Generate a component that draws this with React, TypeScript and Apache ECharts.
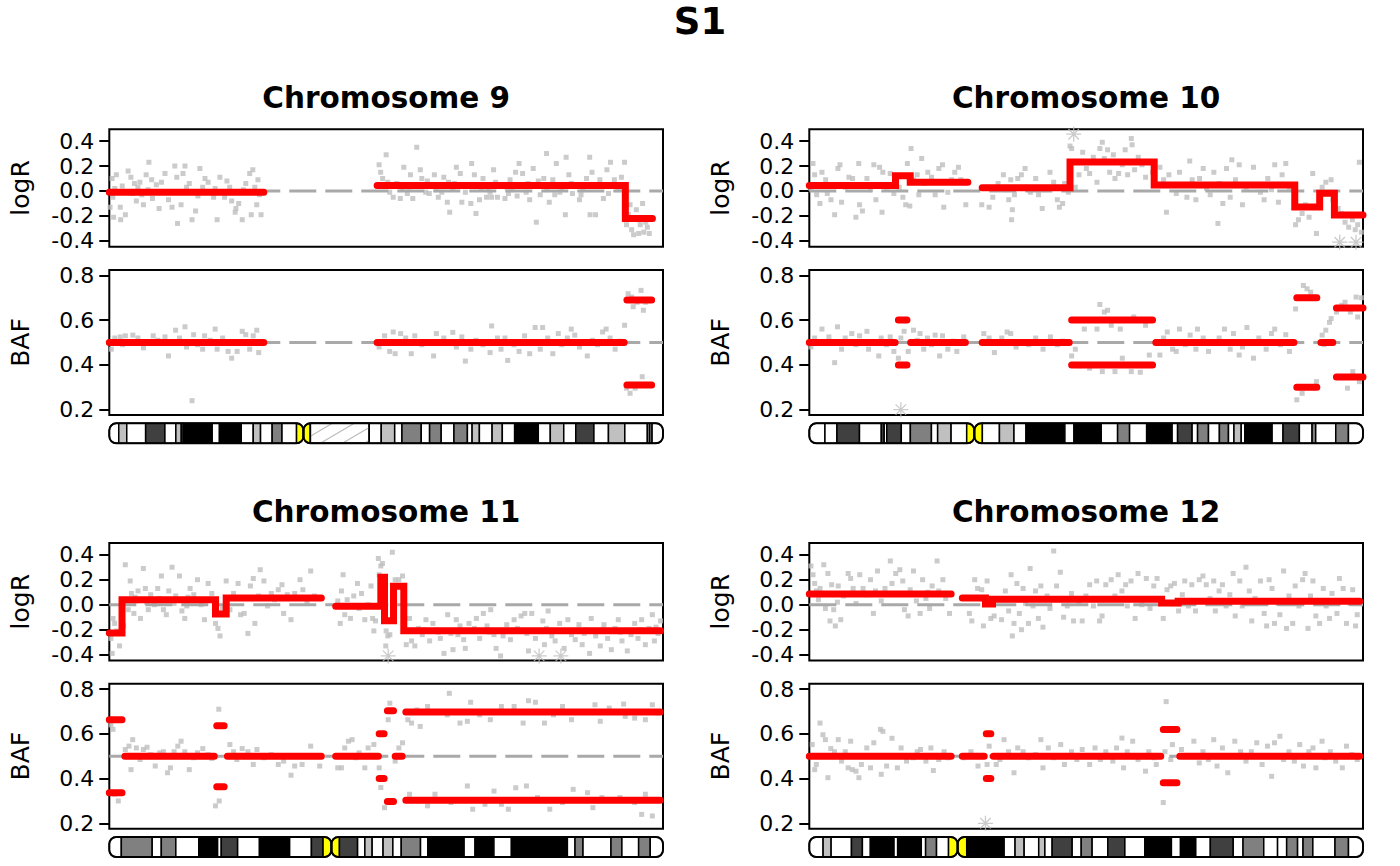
import React, { useEffect, useRef } from 'react';
import * as echarts from 'echarts';

// ---- sample / chromosome info ----
const sampleName = 'S1';
const chromTitles = ['Chromosome 9', 'Chromosome 10', 'Chromosome 11', 'Chromosome 12'];
const chromLengths = [141.2, 135.5, 135.0, 133.9]; // Mb
const centromeres = [49.51, 40.39, 54.16, 35.87]; // Mb

const logRTicks = [-0.4, -0.2, 0, 0.2, 0.4];
const bafTicks = [0.2, 0.4, 0.6, 0.8];
const logRRange = [-0.446, 0.494];
const bafRange = [0.176, 0.824];

// ---- segments: [start, end, value] ----
const chr9LogRSegs = [[0, 39.4, -0.01], [68.3, 131.6, 0.045], [131.6, 138.5, -0.22]];
const chr10LogRSegs = [[0, 21.1, 0.045], [21.1, 24.7, 0.123], [24.7, 38.8, 0.07], [42.3, 63.8, 0.027], [63.8, 84.4, 0.232], [84.4, 118.8, 0.048], [118.8, 124.9, -0.128], [124.9, 128.5, -0.019], [128.5, 135.5, -0.192]];
const chr11LogRSegs = [[0, 3.1, -0.227], [3.1, 25.9, 0.04], [25.9, 28.5, -0.075], [28.5, 51.7, 0.053], [55.2, 66.2, -0.013], [66.2, 67.1, 0.219], [67.1, 69.3, -0.128], [69.3, 71.8, 0.147], [71.8, 134.4, -0.208]];
const chr12LogRSegs = [[0, 34.3, 0.085], [37.0, 42.6, 0.053], [42.6, 44.3, 0.005], [44.3, 85.2, 0.043], [85.2, 89.2, 0.013], [89.2, 133.1, 0.027]];

const chr9BafSegs = [[0, 39.4, 0.5], [68.3, 131.3, 0.5], [132.0, 138.3, 0.69]];
const chr10BafSegs = [[0, 21.0, 0.5], [21.8, 23.9, 0.6], [24.8, 38.2, 0.5], [42.3, 63.6, 0.5], [64.2, 84.0, 0.6], [84.8, 118.6, 0.5], [119.3, 124.2, 0.7], [125.2, 128.1, 0.5], [129.0, 135.5, 0.654]];
const chr11BafSegs = [[0, 3.1, 0.663], [3.8, 25.6, 0.5], [26.2, 28.0, 0.636], [28.8, 51.7, 0.5], [55.2, 65.6, 0.5], [65.8, 67.0, 0.6], [67.8, 69.3, 0.703], [69.7, 71.4, 0.5], [72.3, 134.3, 0.697]];
const chr12BafSegs = [[0, 34.3, 0.5], [37.0, 42.3, 0.5], [42.8, 43.9, 0.6], [44.5, 85.0, 0.5], [85.6, 88.9, 0.619], [89.6, 133.1, 0.5]];

// ---- probe values: [position Mb, value] ----
const chr9LogRPoints = [
  [0.2, -0.13], [0.7, 0.1], [0.9, -0.05], [1.1, -0.21], [1.4, 0.02], [1.8, 0.13], [2.8, -0.13], [2.9, -0.23], [3.3, 0.04], [4.1, -0.19], [4.8, 0.16], [5.5, 0.11], [5.9, -0.02], [6.4, 0.06], [6.9, -0.08], [7.3, 0.03], [7.8, 0.07], [8.3, -0.03], [8.7, -0.11], [9.4, 0.13], [9.9, 0.01], [10.1, 0.23], [10.8, 0.09], [11.0, -0.06], [12.0, 0.05], [12.7, -0.14], [13.3, 0.07], [14.2, 0.14], [14.8, -0.01], [15.1, -0.07], [16.0, -0.13], [16.7, 0.2], [17.2, 0.11], [17.4, -0.26], [18.3, -0.11], [18.8, 0.14], [19.3, 0.2], [19.7, 0.03], [20.4, 0.06], [21.1, -0.23], [22.0, -0.16], [22.6, -0.04], [23.1, 0.18], [23.8, 0.03], [24.4, 0.1], [25.2, 0.07], [26.6, -0.05], [27.0, 0.02], [27.5, -0.23], [28.2, 0.11], [29.4, -0.05], [30.0, 0.08], [30.7, 0.03], [31.2, -0.08], [32.1, -0.17], [32.3, -0.14], [33.0, -0.1], [33.9, -0.23], [34.2, 0.01], [34.8, 0.06], [35.3, -0.01], [35.8, 0.14], [36.2, -0.19], [36.6, 0.17], [37.1, 0.03], [37.6, -0.11], [37.9, 0.09], [38.3, -0.03], [38.7, -0.19],
  [68.8, 0.21], [69.2, 0.15], [69.7, 0.1], [70.6, 0.29], [71.0, 0.07], [71.5, -0.01], [72.4, -0.05], [73.3, 0.06], [74.2, -0.06], [74.7, 0.02], [75.1, 0.19], [76.0, -0.02], [76.4, 0.03], [76.8, 0.13], [77.4, -0.06], [78.4, 0.35], [78.9, 0.04], [79.3, 0.17], [79.7, 0.1], [80.7, -0.01], [81.1, 0.08], [81.6, -0.02], [82.9, 0.13], [83.4, 0.01], [83.9, -0.05], [84.8, -0.01], [85.3, 0.11], [86.2, -0.09], [86.5, 0.07], [86.8, -0.17], [87.6, 0.02], [88.0, 0.06], [88.5, 0.19], [89.5, 0.14], [89.9, -0.09], [90.8, -0.01], [91.3, 0.04], [92.2, -0.1], [92.4, 0.22], [93.1, 0.13], [93.5, -0.18], [94.4, -0.07], [94.9, 0.02], [95.3, 0.1], [96.2, -0.05], [96.6, 0.01], [97.1, -0.01], [97.5, -0.05], [98.0, 0.17], [98.5, 0.07], [99.0, -0.05], [99.9, 0.05], [100.9, -0.06], [101.4, 0.03], [101.8, -0.02], [102.2, 0.09], [102.7, 0.01], [103.6, 0.15], [104.0, -0.04], [104.5, 0.22], [105.4, 0.14], [106.3, -0.01], [106.8, 0.06], [107.2, -0.07], [108.1, 0.18], [108.9, -0.25], [109.4, 0.08], [109.9, -0.03], [110.8, 0.1], [111.5, 0.3], [111.6, 0.01], [112.2, -0.09], [113.1, 0.09], [113.6, -0.03], [114.0, 0.22], [114.9, -0.01], [115.4, 0.02], [116.3, -0.19], [116.5, 0.27], [117.2, 0.13], [117.8, 0.06], [118.1, -0.02], [119.0, 0.05], [119.9, -0.07], [120.3, -0.03], [120.8, 0.01], [121.7, 0.1], [122.5, 0.27], [122.6, -0.19], [123.1, 0.15], [124.0, -0.19], [124.5, 0.04], [125.1, 0.09], [126.0, -0.06], [126.9, 0.17], [127.3, -0.02], [127.8, 0.23], [128.8, 0.09], [129.7, 0.01], [130.1, 0.03], [130.6, 0.11], [131.4, 0.23],
  [131.9, -0.27], [132.4, -0.19], [132.8, -0.11], [133.2, -0.31], [133.7, -0.35], [134.4, -0.15], [134.8, -0.23], [135.0, -0.34], [135.4, -0.27], [136.0, -0.1], [136.3, -0.33], [136.8, -0.25], [137.2, -0.29], [137.7, -0.34],
];
const chr9BafPoints = [
  [0.5, 0.47], [1.4, 0.52], [2.8, 0.525], [4.1, 0.53], [6.0, 0.533], [7.3, 0.52], [8.7, 0.476], [10.1, 0.496], [12.4, 0.51], [14.2, 0.525], [15.1, 0.44], [16.9, 0.555], [17.9, 0.52], [19.3, 0.57], [19.7, 0.48], [21.1, 0.24], [21.5, 0.535], [22.5, 0.49], [23.8, 0.47], [24.3, 0.53], [25.7, 0.51], [27.0, 0.56], [27.5, 0.47], [28.9, 0.52], [30.3, 0.46], [31.2, 0.43], [32.6, 0.46], [33.9, 0.55], [34.8, 0.535], [35.8, 0.47], [36.7, 0.53], [37.6, 0.555], [38.1, 0.455], [3.4, 0.49], [11.2, 0.53],
  [68.8, 0.48], [70.2, 0.53], [71.5, 0.46], [72.4, 0.547], [72.9, 0.45], [74.3, 0.54], [75.6, 0.52], [77.0, 0.45], [77.9, 0.53], [79.7, 0.49], [82.7, 0.44], [83.4, 0.54], [85.3, 0.52], [87.6, 0.545], [88.5, 0.48], [89.9, 0.525], [90.8, 0.417], [92.2, 0.47], [93.5, 0.51], [95.3, 0.49], [97.1, 0.455], [97.5, 0.574], [99.0, 0.52], [99.9, 0.47], [100.9, 0.52], [101.6, 0.42], [103.2, 0.49], [104.5, 0.46], [105.9, 0.53], [107.2, 0.45], [108.6, 0.567], [109.9, 0.47], [110.5, 0.567], [111.8, 0.52], [113.1, 0.45], [114.5, 0.54], [115.4, 0.49], [116.8, 0.52], [117.8, 0.56], [118.7, 0.533], [119.9, 0.48], [121.9, 0.44], [123.2, 0.51], [124.5, 0.49], [125.8, 0.547], [126.7, 0.56], [127.7, 0.52], [129.0, 0.47], [130.2, 0.506], [131.4, 0.577],
  [132.3, 0.718], [133.2, 0.703], [133.6, 0.66], [134.6, 0.68], [135.6, 0.733], [136.2, 0.644], [136.8, 0.68], [131.9, 0.296], [132.8, 0.273], [134.1, 0.296], [135.9, 0.347],
];
const chr9LogROutliers: number[][] = [];
const chr9BafOutliers: number[][] = [];

const chr10LogRPoints = [
  [0.4, 0.02], [0.9, 0.22], [1.3, 0.13], [1.8, -0.03], [2.6, -0.1], [3.1, 0.15], [4.0, 0.09], [4.4, -0.02], [5.3, -0.07], [6.2, -0.19], [7.0, 0.18], [7.5, 0.21], [7.9, -0.09], [8.8, 0.03], [9.7, 0.11], [10.6, 0.1], [11.4, -0.21], [12.1, 0.22], [12.3, -0.11], [13.0, -0.16], [14.1, 0.1], [15.0, 0.01], [15.8, 0.21], [16.3, -0.07], [17.2, 0.19], [17.8, -0.17], [18.0, 0.15], [18.9, 0.03], [19.8, 0.14], [20.7, -0.02],
  [22.0, 0.03], [22.9, -0.05], [23.6, -0.11], [24.0, 0.22], [24.9, 0.34], [24.6, -0.12],
  [25.5, 0.09], [26.4, 0.13], [26.8, -0.03], [27.5, 0.26], [28.2, 0.06], [29.0, 0.15], [29.9, 0.11], [30.8, -0.03], [31.7, 0.18], [32.6, 0.21], [32.9, -0.13], [33.9, -0.01], [34.8, 0.09], [35.6, 0.15], [36.5, 0.19], [37.1, 0.09], [38.3, -0.11],
  [42.2, -0.11], [43.1, 0.02], [44.0, -0.13], [44.9, -0.05], [46.2, 0.06], [47.5, 0.13], [48.2, 0.01], [48.8, -0.07], [49.3, 0.09], [49.7, -0.15], [49.5, -0.23], [50.2, -0.03], [51.0, 0.1], [51.9, 0.13], [52.8, 0.18], [53.2, 0.03], [54.1, -0.01], [55.4, 0.1], [56.1, -0.03], [57.0, -0.14], [57.6, 0.01], [58.9, 0.15], [59.8, 0.07], [60.7, -0.07], [61.2, -0.13], [62.0, -0.1], [62.5, 0.06], [63.4, -0.01],
  [63.8, 0.36], [64.2, 0.34], [65.1, 0.03], [66.0, 0.13], [66.9, 0.31], [67.8, 0.18], [68.6, 0.14], [69.5, 0.27], [70.4, 0.07], [71.1, 0.34], [71.7, 0.39], [72.2, 0.26], [73.0, 0.33], [73.5, 0.15], [74.4, 0.29], [74.8, 0.1], [75.7, 0.14], [76.6, 0.21], [77.3, 0.33], [77.9, 0.13], [78.8, 0.42], [79.0, 0.37], [79.6, 0.17], [80.5, 0.27], [81.4, 0.21], [82.3, 0.11], [83.2, 0.23], [84.0, 0.15],
  [85.8, 0.19], [86.7, 0.09], [87.4, -0.17], [88.0, 0.13], [88.9, 0.05], [89.8, -0.02], [90.6, 0.15], [91.5, 0.05], [92.4, -0.05], [93.1, 0.24], [93.7, 0.09], [94.6, -0.07], [95.5, 0.1], [96.4, 0.18], [97.2, 0.02], [98.1, -0.03], [99.0, 0.15], [100.0, -0.26], [100.3, 0.06], [101.2, -0.1], [102.1, 0.18], [103.0, -0.05], [103.4, 0.25], [104.3, 0.09], [105.2, 0.21], [106.0, -0.11], [106.9, 0.03], [108.7, 0.19], [109.6, 0.05], [110.4, -0.01], [111.3, -0.07], [112.2, 0.1], [113.1, 0.01], [113.9, 0.21], [114.8, -0.09], [115.7, 0.13], [116.6, 0.22], [117.5, 0.03],
  [119.0, -0.27], [119.7, -0.23], [120.6, -0.18], [121.4, -0.11], [122.3, -0.21], [123.2, 0.14], [124.1, -0.34],
  [125.5, 0.03], [126.4, 0.07], [127.7, 0.09], [128.1, -0.07],
  [129.4, -0.14], [130.3, -0.18], [131.1, -0.25], [132.0, -0.29], [132.9, -0.23], [133.6, -0.31], [134.2, -0.27], [134.6, 0.23], [135.1, -0.33],
];
const chr10BafPoints = [
  [0.4, 0.48], [1.3, 0.52], [3.1, 0.56], [4.0, 0.5], [4.8, 0.525], [6.2, 0.41], [6.9, 0.57], [7.9, 0.47], [8.8, 0.52], [10.4, 0.54], [11.4, 0.49], [12.3, 0.53], [14.1, 0.55], [14.5, 0.47], [16.3, 0.5], [17.0, 0.44], [17.6, 0.52], [18.9, 0.49], [19.8, 0.525], [20.7, 0.46],
  [21.8, 0.43], [22.4, 0.52], [23.2, 0.55], [24.2, 0.46],
  [25.5, 0.555], [26.4, 0.51], [27.1, 0.54], [28.0, 0.47], [28.9, 0.52], [29.9, 0.49], [30.8, 0.533], [31.9, 0.44], [32.6, 0.53], [33.9, 0.47], [35.2, 0.506], [36.1, 0.46], [37.8, 0.525],
  [42.7, 0.54], [44.0, 0.52], [45.3, 0.455], [47.1, 0.52], [48.4, 0.547], [49.3, 0.54], [50.6, 0.48], [51.9, 0.5], [53.7, 0.49], [55.4, 0.52], [57.2, 0.47], [59.0, 0.525], [60.7, 0.49], [62.0, 0.506],
  [64.2, 0.44], [65.1, 0.47], [66.0, 0.396], [67.3, 0.56], [68.6, 0.385], [70.4, 0.56], [71.1, 0.67], [71.7, 0.37], [72.2, 0.636], [73.0, 0.644], [73.9, 0.577], [74.8, 0.37], [76.1, 0.56], [76.6, 0.43], [78.8, 0.37], [79.4, 0.614], [81.0, 0.367], [82.3, 0.577], [83.2, 0.444],
  [85.8, 0.444], [86.7, 0.52], [87.6, 0.547], [88.9, 0.47], [89.8, 0.46], [90.6, 0.56], [92.0, 0.49], [93.2, 0.533], [94.6, 0.47], [95.0, 0.56], [96.4, 0.52], [97.7, 0.46], [99.0, 0.496], [100.3, 0.52], [101.6, 0.56], [103.0, 0.47], [103.8, 0.54], [105.2, 0.444], [106.0, 0.48], [107.1, 0.567], [108.7, 0.43], [110.0, 0.52], [111.8, 0.47], [113.1, 0.54], [113.9, 0.56], [115.3, 0.49], [116.6, 0.535], [117.5, 0.46],
  [119.0, 0.65], [120.9, 0.755], [121.8, 0.74], [122.7, 0.725], [119.3, 0.244], [120.6, 0.273], [124.1, 0.325],
  [125.5, 0.533], [126.0, 0.49], [126.4, 0.555], [127.3, 0.59], [127.7, 0.607],
  [129.0, 0.636], [130.3, 0.666], [131.1, 0.68], [132.4, 0.636], [133.8, 0.703], [134.2, 0.614], [135.1, 0.7], [129.9, 0.347], [131.7, 0.296], [133.0, 0.37], [134.6, 0.325],
];
const chr10LogROutliers = [[64.7, 0.455], [129.8, -0.41], [133.8, -0.41]];
const chr10BafOutliers = [[22.4, 0.2]];

const chr11LogRPoints = [
  [0.4, -0.27], [0.7, -0.39], [0.9, -0.11], [1.3, -0.15], [1.8, -0.21], [2.5, -0.33],
  [3.5, -0.17], [3.9, 0.32], [4.6, -0.04], [5.1, 0.19], [5.4, 0.09], [6.0, -0.07], [6.6, 0.03], [7.0, 0.11], [7.6, -0.11], [8.3, 0.29], [8.8, 0.13], [9.5, -0.04], [10.1, 0.08], [11.0, 0.0], [11.8, 0.13], [12.7, 0.23], [13.2, -0.04], [13.9, -0.08], [14.5, 0.11], [15.3, 0.3], [16.2, 0.07], [17.1, 0.23], [17.7, -0.05], [18.4, -0.11], [18.9, -0.01], [19.7, 0.13], [20.6, 0.08], [21.5, 0.2], [22.4, 0.0], [23.2, -0.12], [24.1, 0.17], [25.0, 0.09], [6.3, 0.06], [9.1, 0.02], [12.2, 0.05], [15.8, 0.01], [19.2, 0.06], [23.7, 0.04],
  [25.9, -0.15], [26.5, -0.19], [27.0, -0.25], [27.6, -0.03],
  [28.5, 0.19], [29.4, -0.04], [30.3, 0.09], [31.4, 0.17], [32.0, -0.08], [32.9, -0.07], [33.8, -0.23], [34.4, 0.15], [35.1, 0.21], [35.5, -0.15], [36.4, 0.07], [36.8, 0.28], [37.7, 0.19], [38.6, -0.01], [39.5, 0.09], [40.3, 0.04], [41.2, 0.12], [42.1, 0.16], [42.5, -0.07], [43.4, 0.08], [44.3, -0.12], [45.2, 0.09], [46.5, 0.2], [47.2, 0.12], [48.2, 0.01], [49.1, 0.27], [50.0, 0.07],
  [55.7, 0.03], [56.3, -0.15], [56.6, 0.11], [57.0, 0.24], [57.4, -0.08], [58.0, 0.04], [58.8, -0.11], [59.6, 0.07], [60.5, 0.17], [60.9, -0.03], [61.5, 0.09], [62.3, -0.12], [63.1, 0.0], [63.8, 0.15], [64.2, -0.11], [64.5, -0.21], [64.9, -0.13],
  [65.6, 0.37], [65.8, 0.24], [66.2, 0.31], [66.6, 0.33],
  [67.4, -0.33], [67.5, -0.21], [67.9, -0.25], [68.4, -0.24],
  [69.0, 0.42], [69.3, 0.07], [69.7, 0.2], [70.6, 0.2], [71.5, 0.23],
  [72.4, -0.32], [73.2, -0.11], [73.7, -0.29], [74.5, -0.33], [75.4, -0.19], [76.3, -0.24], [77.2, -0.12], [78.1, -0.29], [78.9, -0.15], [79.8, -0.2], [80.7, -0.27], [81.6, -0.39], [82.5, -0.08], [83.3, -0.23], [83.8, -0.36], [84.6, -0.12], [85.5, -0.17], [86.4, -0.28], [86.8, -0.35], [87.7, -0.15], [88.6, -0.21], [89.5, -0.11], [90.3, -0.27], [91.2, -0.07], [92.1, -0.17], [93.0, -0.04], [93.8, -0.24], [94.3, -0.35], [95.4, -0.41], [96.0, -0.25], [96.9, -0.16], [97.8, -0.28], [98.7, -0.12], [99.5, -0.19], [100.4, -0.09], [101.3, -0.07], [102.2, -0.37], [103.0, -0.07], [103.9, -0.27], [105.7, -0.13], [106.1, -0.32], [107.0, -0.05], [107.9, -0.25], [108.7, -0.29], [109.8, -0.15], [110.9, -0.35], [111.8, -0.12], [112.7, -0.24], [113.6, -0.28], [114.5, -0.16], [115.3, -0.32], [116.2, -0.2], [117.1, -0.39], [117.5, -0.11], [118.6, -0.25], [119.7, -0.33], [120.6, -0.16], [121.5, -0.27], [122.4, -0.36], [123.3, -0.19], [124.1, -0.12], [125.0, -0.29], [126.3, -0.37], [127.2, -0.24], [128.1, -0.15], [128.9, -0.27], [129.8, -0.12], [130.7, -0.32], [131.6, -0.19], [132.4, -0.08], [132.9, -0.29], [133.8, -0.23], [134.4, -0.13],
  [76.8, -0.2], [80.2, -0.22], [85.0, -0.24], [89.0, -0.19], [92.6, -0.22], [97.3, -0.21], [101.8, -0.23], [106.6, -0.19], [111.3, -0.21], [115.8, -0.23], [120.1, -0.2], [124.6, -0.22], [129.3, -0.2], [133.3, -0.18],
];
const chr11BafPoints = [
  [0.4, 0.64], [0.9, 0.62], [1.3, 0.33], [2.2, 0.3],
  [3.9, 0.53], [4.8, 0.545], [5.3, 0.44], [5.7, 0.574], [6.6, 0.537], [7.5, 0.485], [8.3, 0.53], [9.2, 0.54], [10.1, 0.507], [11.2, 0.456], [12.3, 0.515], [13.2, 0.52], [14.2, 0.426], [14.9, 0.448], [15.8, 0.52], [16.7, 0.545], [17.5, 0.567], [18.4, 0.52], [19.5, 0.44], [20.6, 0.493], [21.5, 0.515], [22.8, 0.534], [24.1, 0.507], [25.0, 0.49],
  [26.7, 0.71], [25.9, 0.278], [26.8, 0.3],
  [29.4, 0.552], [30.3, 0.52], [31.1, 0.485], [32.4, 0.534], [33.8, 0.52], [35.1, 0.463], [36.0, 0.53], [37.7, 0.493], [39.5, 0.507], [41.2, 0.463], [42.5, 0.478], [44.3, 0.415], [45.2, 0.456], [47.0, 0.463], [49.1, 0.545], [51.3, 0.456],
  [55.7, 0.448], [56.6, 0.448], [57.4, 0.537], [58.3, 0.567], [59.2, 0.574], [60.1, 0.493], [60.9, 0.515], [62.3, 0.448], [63.1, 0.537], [64.5, 0.552], [65.8, 0.448],
  [66.2, 0.36], [67.1, 0.27], [68.4, 0.737], [68.0, 0.663], [69.7, 0.478], [70.6, 0.537], [71.5, 0.56],
  [72.8, 0.663], [73.7, 0.648], [75.0, 0.707], [75.8, 0.633], [77.6, 0.722], [78.5, 0.7], [82.9, 0.781], [82.4, 0.685], [85.5, 0.648], [87.3, 0.656], [88.1, 0.741], [90.3, 0.685], [92.9, 0.663], [95.6, 0.722], [98.7, 0.722], [100.9, 0.648], [102.2, 0.748], [103.9, 0.741], [106.1, 0.648], [108.3, 0.685], [110.5, 0.722], [112.7, 0.663], [114.9, 0.7], [118.4, 0.73], [119.7, 0.656], [121.9, 0.715], [125.4, 0.733], [125.8, 0.678], [128.1, 0.67], [130.7, 0.663], [132.4, 0.73], [133.7, 0.693],
  [73.2, 0.33], [75.4, 0.3], [77.6, 0.278], [79.4, 0.33], [83.3, 0.293], [87.3, 0.367], [88.6, 0.263], [91.6, 0.285], [93.8, 0.344], [95.6, 0.285], [97.3, 0.263], [99.1, 0.359], [101.7, 0.367], [104.4, 0.315], [107.4, 0.263], [110.5, 0.293], [113.1, 0.352], [116.6, 0.337], [117.9, 0.27], [120.1, 0.315], [124.5, 0.315], [128.1, 0.293], [129.8, 0.24], [130.7, 0.33], [132.4, 0.233],
];
const chr11LogROutliers = [[68.0, -0.41], [104.8, -0.41], [110.1, -0.41]];
const chr11BafOutliers: number[][] = [];

const chr12LogRPoints = [
  [0.4, 0.31], [0.9, 0.24], [1.3, 0.17], [1.7, 0.11], [2.2, 0.04], [2.6, 0.13], [3.5, 0.32], [3.9, -0.03], [4.5, 0.25], [5.0, -0.13], [5.4, 0.16], [5.9, -0.04], [6.3, -0.17], [7.0, 0.15], [7.6, -0.12], [8.3, 0.07], [9.4, 0.25], [10.0, 0.21], [10.6, 0.13], [11.3, 0.01], [12.2, 0.24], [13.0, 0.13], [13.9, 0.08], [14.8, 0.2], [15.5, -0.07], [16.5, 0.27], [17.4, 0.03], [18.3, 0.13], [19.6, 0.35], [20.0, 0.17], [20.9, 0.25], [21.9, 0.28], [22.6, 0.19], [23.0, -0.04], [23.9, -0.09], [25.2, 0.27], [25.9, 0.03], [26.8, -0.07], [27.4, 0.2], [28.2, 0.05], [29.1, -0.03], [29.7, 0.15], [30.9, 0.35], [31.3, 0.11], [32.3, 0.2], [33.0, 0.05], [33.9, -0.07], [6.8, 0.02], [11.8, 0.09], [16.0, 0.11], [24.4, 0.12], [28.7, 0.1],
  [38.7, -0.07], [39.3, -0.13], [40.0, 0.2], [40.7, 0.13], [41.7, 0.12], [42.1, -0.17], [43.0, 0.19], [43.9, -0.11], [44.7, -0.09],
  [46.5, -0.12], [46.9, 0.04], [47.4, 0.11], [48.2, -0.05], [48.8, 0.24], [49.1, -0.25], [49.5, -0.15], [50.2, 0.17], [50.8, -0.07], [51.3, -0.2], [51.7, 0.13], [52.3, 0.01], [53.0, -0.15], [53.4, 0.29], [54.1, -0.01], [54.7, 0.11], [55.4, -0.11], [56.0, 0.15], [56.5, -0.18], [57.5, 0.07], [58.2, -0.03], [59.1, 0.43], [59.8, 0.15], [60.7, 0.26], [61.0, 0.05], [61.5, -0.1], [62.4, -0.01], [63.4, 0.09], [63.9, -0.13], [65.2, 0.01], [66.0, -0.13], [66.9, 0.07], [67.8, 0.16], [68.7, -0.01], [69.5, 0.19], [70.2, -0.13], [70.8, -0.09], [71.7, 0.16], [73.0, 0.2], [73.9, 0.07], [74.7, 0.24], [75.6, 0.11], [76.5, 0.16], [76.9, -0.01], [77.8, 0.19], [78.8, -0.11], [79.5, 0.25], [80.4, 0.0], [81.5, 0.21], [82.4, -0.03], [83.3, 0.15], [84.1, 0.21],
  [85.6, -0.11], [86.5, 0.12], [87.4, 0.15], [88.3, 0.17], [89.3, -0.05],
  [90.2, 0.08], [90.8, 0.19], [91.7, -0.01], [92.5, 0.16], [93.4, -0.05], [94.3, 0.2], [95.2, 0.23], [96.0, 0.16], [96.9, 0.05], [97.8, 0.19], [98.2, -0.05], [99.1, 0.11], [99.9, 0.16], [100.8, -0.01], [101.7, 0.08], [102.5, 0.25], [103.0, -0.09], [104.1, 0.19], [104.7, -0.01], [105.6, 0.3], [106.4, 0.11], [107.0, -0.13], [107.8, 0.05], [109.1, 0.19], [110.0, -0.07], [110.6, -0.17], [111.2, 0.2], [111.9, 0.13], [112.5, -0.15], [113.4, 0.01], [113.8, -0.08], [114.7, 0.27], [115.4, -0.19], [116.0, 0.07], [116.9, -0.15], [117.5, 0.15], [118.4, -0.01], [119.3, 0.2], [119.9, 0.25], [120.6, -0.19], [121.2, 0.07], [121.8, 0.19], [122.5, -0.09], [123.4, -0.15], [124.3, 0.13], [125.0, -0.01], [125.8, -0.11], [126.4, 0.09], [127.6, -0.07], [128.2, 0.21], [129.1, 0.13], [129.9, -0.15], [130.8, 0.01], [131.4, 0.12], [132.1, -0.17], [132.5, -0.08],
];
const chr12BafPoints = [
  [0.7, 0.552], [1.3, 0.44], [1.7, 0.463], [2.6, 0.648], [3.3, 0.596], [3.9, 0.574], [4.5, 0.404], [5.2, 0.534], [6.1, 0.52], [7.0, 0.574], [7.8, 0.478], [8.7, 0.52], [9.4, 0.448], [10.0, 0.567], [10.4, 0.44], [11.3, 0.433], [12.0, 0.404], [12.6, 0.463], [13.9, 0.537], [14.8, 0.448], [15.6, 0.56], [17.2, 0.62], [17.8, 0.611], [17.4, 0.419], [18.7, 0.456], [20.0, 0.58], [21.3, 0.448], [22.2, 0.537], [23.5, 0.478], [25.2, 0.493], [26.1, 0.52], [26.9, 0.53], [28.2, 0.478], [29.4, 0.537], [30.0, 0.436], [31.3, 0.485], [32.6, 0.52], [33.5, 0.493],
  [37.4, 0.493], [39.1, 0.52], [40.8, 0.456], [41.7, 0.5], [43.5, 0.545], [43.0, 0.463],
  [45.2, 0.463], [46.1, 0.485], [47.1, 0.574], [48.2, 0.52], [49.5, 0.426], [50.4, 0.537], [51.7, 0.52], [53.0, 0.493], [54.7, 0.507], [56.0, 0.574], [56.5, 0.448], [57.8, 0.537], [59.1, 0.493], [60.8, 0.552], [61.7, 0.463], [63.4, 0.52], [64.7, 0.485], [66.0, 0.53], [67.8, 0.463], [69.1, 0.537], [70.4, 0.485], [71.7, 0.52], [73.4, 0.478], [74.3, 0.537], [75.6, 0.581], [76.0, 0.448], [76.9, 0.52], [78.2, 0.567], [79.5, 0.485], [81.3, 0.433], [82.1, 0.52], [83.4, 0.493], [83.9, 0.463],
  [86.3, 0.744], [86.0, 0.52], [85.6, 0.293], [87.8, 0.552], [87.4, 0.485],
  [90.0, 0.53], [91.3, 0.5], [93.0, 0.567], [94.3, 0.47], [95.2, 0.52], [96.5, 0.485], [97.8, 0.574], [98.6, 0.456], [99.9, 0.537], [101.2, 0.426], [102.9, 0.567], [104.3, 0.52], [105.6, 0.478], [106.9, 0.52], [108.2, 0.56], [109.5, 0.463], [110.8, 0.545], [111.8, 0.41], [112.5, 0.56], [113.8, 0.589], [114.7, 0.485], [116.0, 0.52], [117.3, 0.478], [118.6, 0.552], [119.5, 0.456], [120.8, 0.52], [121.8, 0.537], [122.5, 0.448], [124.0, 0.567], [124.7, 0.493], [126.0, 0.52], [127.3, 0.478], [128.9, 0.448], [129.9, 0.545], [131.2, 0.507], [132.5, 0.485],
];
const chr12LogROutliers: number[][] = [];
const chr12BafOutliers = [[42.6, 0.2]];

// ---- cytobands: [start, end, stain] ----
const chr9Bands = [
  [0, 2.41, 'gneg'], [2.41, 4.45, 'gpos25'], [4.45, 9.27, 'gneg'], [9.27, 14.18, 'gpos75'], [14.18, 16.97, 'gneg'], [16.97, 18.36, 'gpos25'], [18.36, 18.82, 'gneg'], [18.82, 26.24, 'gpos100'], [26.24, 28.09, 'gneg'], [28.09, 33.65, 'gpos100'], [33.65, 36.71, 'gneg'], [36.71, 38.57, 'gpos25'], [38.57, 41.53, 'gneg'], [41.53, 44.04, 'gpos50'], [44.04, 47.75, 'gneg'], [47.75, 49.51, 'acen'],
  [49.51, 51.27, 'acen'], [51.27, 66.29, 'gvar'], [66.29, 69.35, 'gneg'], [69.35, 72.78, 'gpos25'], [72.78, 74.63, 'gneg'], [74.63, 79.55, 'gpos50'], [79.55, 81.68, 'gneg'], [81.68, 84.64, 'gpos50'], [84.64, 87.89, 'gneg'], [87.89, 91.32, 'gpos50'], [91.32, 92.52, 'gneg'], [92.52, 94.38, 'gpos25'], [94.38, 97.62, 'gneg'], [97.62, 100.22, 'gpos25'], [100.22, 103.37, 'gneg'], [103.37, 109.4, 'gpos100'], [109.4, 112.46, 'gneg'], [112.46, 115.89, 'gpos25'], [115.89, 118.95, 'gneg'], [118.95, 123.58, 'gpos75'], [123.58, 127.29, 'gneg'], [127.29, 131.46, 'gpos25'], [131.46, 137.21, 'gneg'], [137.21, 137.77, 'gpos25'], [137.77, 138.42, 'gpos50'], [138.42, 141.2, 'gneg'],
];
const chr10Bands = [
  [0, 3.83, 'gneg'], [3.83, 6.76, 'gneg'], [6.76, 12.28, 'gpos75'], [12.28, 17.62, 'gneg'], [17.62, 18.33, 'gpos75'], [18.33, 18.95, 'gneg'], [18.95, 22.51, 'gpos75'], [22.51, 24.73, 'gneg'], [24.73, 29.89, 'gpos50'], [29.89, 31.41, 'gneg'], [31.41, 34.7, 'gpos25'], [34.7, 38.52, 'gneg'], [38.52, 40.39, 'acen'],
  [40.39, 42.35, 'acen'], [42.35, 46.53, 'gneg'], [46.53, 50.09, 'gpos25'], [50.09, 53.03, 'gneg'], [53.03, 62.55, 'gpos100'], [62.55, 64.77, 'gneg'], [64.77, 71.44, 'gpos100'], [71.44, 75.45, 'gneg'], [75.45, 78.38, 'gpos50'], [78.38, 82.56, 'gneg'], [82.56, 88.79, 'gpos100'], [88.79, 90.13, 'gneg'], [90.13, 93.68, 'gpos75'], [93.68, 95.02, 'gneg'], [95.02, 97.69, 'gpos50'], [97.69, 100.36, 'gneg'], [100.36, 102.58, 'gpos50'], [102.58, 103.92, 'gneg'], [103.92, 105.7, 'gpos25'], [105.7, 106.59, 'gneg'], [106.59, 113.26, 'gpos100'], [113.26, 115.93, 'gneg'], [115.93, 119.93, 'gpos75'], [119.93, 123.04, 'gneg'], [123.04, 123.93, 'gpos50'], [123.93, 128.83, 'gneg'], [128.83, 131.94, 'gpos50'], [131.94, 135.5, 'gneg'],
];
const chr11Bands = [
  [0, 2.93, 'gneg'], [2.93, 10.46, 'gpos50'], [10.46, 12.68, 'gneg'], [12.68, 16.22, 'gpos50'], [16.22, 21.81, 'gneg'], [21.81, 26.41, 'gpos100'], [26.41, 27.3, 'gneg'], [27.3, 31.29, 'gpos75'], [31.29, 36.61, 'gneg'], [36.61, 43.97, 'gpos100'], [43.97, 49.28, 'gneg'], [49.28, 52.12, 'gpos75'], [52.12, 54.16, 'acen'],
  [54.16, 56.11, 'acen'], [56.11, 60.54, 'gpos75'], [60.54, 62.31, 'gneg'], [62.31, 64.09, 'gpos25'], [64.09, 66.75, 'gneg'], [66.75, 69.14, 'gpos25'], [69.14, 71.18, 'gneg'], [71.18, 75.88, 'gpos50'], [75.88, 77.65, 'gneg'], [77.65, 86.51, 'gpos100'], [86.51, 89.17, 'gneg'], [89.17, 93.78, 'gpos100'], [93.78, 98.04, 'gneg'], [98.04, 103.35, 'gpos100'], [103.35, 103.53, 'gneg'], [103.53, 111.69, 'gpos100'], [111.69, 113.55, 'gneg'], [113.55, 115.5, 'gpos50'], [115.5, 122.32, 'gneg'], [122.32, 124.98, 'gpos50'], [124.98, 129.06, 'gneg'], [129.06, 131.89, 'gpos50'], [131.89, 135.0, 'gneg'],
];
const chr12Bands = [
  [0, 3.34, 'gneg'], [3.34, 5.28, 'gpos25'], [5.28, 10.2, 'gneg'], [10.2, 12.84, 'gpos75'], [12.84, 14.77, 'gneg'], [14.77, 20.49, 'gpos100'], [20.49, 21.37, 'gneg'], [21.37, 27.08, 'gpos100'], [27.08, 28.13, 'gneg'], [28.13, 30.77, 'gpos50'], [30.77, 33.67, 'gneg'], [33.67, 35.87, 'acen'],
  [35.87, 38.07, 'acen'], [38.07, 47.12, 'gpos100'], [47.12, 49.76, 'gneg'], [49.76, 51.96, 'gpos25'], [51.96, 55.48, 'gneg'], [55.48, 56.97, 'gpos25'], [56.97, 58.73, 'gneg'], [58.73, 63.57, 'gpos75'], [63.57, 65.76, 'gneg'], [65.76, 68.4, 'gpos50'], [68.4, 72.18, 'gneg'], [72.18, 76.31, 'gpos75'], [76.31, 81.15, 'gneg'], [81.15, 87.57, 'gpos100'], [87.57, 89.77, 'gneg'], [89.77, 93.46, 'gpos100'], [93.46, 96.98, 'gneg'], [96.98, 102.52, 'gpos75'], [102.52, 104.89, 'gneg'], [104.89, 109.9, 'gpos50'], [109.9, 113.24, 'gneg'], [113.24, 115.44, 'gneg'], [115.44, 118.08, 'gpos50'], [118.08, 119.4, 'gneg'], [119.4, 121.77, 'gpos50'], [121.77, 127.13, 'gneg'], [127.13, 130.39, 'gpos50'], [130.39, 133.9, 'gneg'],
];

const stainColors: Record<string, string> = {
  gneg: '#FFFFFF', gpos25: '#C0C0C0', gpos50: '#808080', gpos75: '#404040', gpos100: '#000000', acen: '#FFFF00', gvar: '#FFFFFF',
};

// layout (px)
const FONT = 'DejaVu Sans';
const colLeft = [109.3, 809.3];
const rowTop = [129.3, 543];
const plotW = 553.7;
const logRH = 117.4;
const bafOff = 140.7;
const bafH = 145;
const ideoOff = 294;
const ideoH = 20;

const panels = [
  { logR: chr9LogRSegs, baf: chr9BafSegs, lp: chr9LogRPoints, bp: chr9BafPoints, lo: chr9LogROutliers, bo: chr9BafOutliers, bands: chr9Bands },
  { logR: chr10LogRSegs, baf: chr10BafSegs, lp: chr10LogRPoints, bp: chr10BafPoints, lo: chr10LogROutliers, bo: chr10BafOutliers, bands: chr10Bands },
  { logR: chr11LogRSegs, baf: chr11BafSegs, lp: chr11LogRPoints, bp: chr11BafPoints, lo: chr11LogROutliers, bo: chr11BafOutliers, bands: chr11Bands },
  { logR: chr12LogRSegs, baf: chr12BafSegs, lp: chr12LogRPoints, bp: chr12BafPoints, lo: chr12LogROutliers, bo: chr12BafOutliers, bands: chr12Bands },
];

const asterisk = 'path://M0 5L10 5M5 0L5 10M1.5 1.5L8.5 8.5M1.5 8.5L8.5 1.5';

function logRLine(segs: number[][]) {
  const out: any[] = [];
  segs.forEach((s, i) => {
    if (i > 0 && Math.abs(s[0] - segs[i - 1][1]) > 0.01) out.push([s[0], '-']);
    out.push([s[0], s[2]], [s[1], s[2]]);
  });
  return out;
}

function bafLine(segs: number[][]) {
  const out: any[] = [];
  segs.forEach((s) => {
    out.push([s[0], s[2]], [s[1], s[2]], [s[1], '-']);
    if (Math.abs(s[2] - 0.5) > 0.001) out.push([s[0], 1 - s[2]], [s[1], 1 - s[2]], [s[1], '-']);
  });
  return out;
}

const R_END = 7;

function bandRenderer(bands: any[], cen: number, len: number) {
  return (params: any, api: any) => {
    const b = bands[params.dataIndex];
    const p0 = api.coord([b[0], 1]);
    const p1 = api.coord([b[1], 0]);
    const x = p0[0], y = p0[1], w = p1[0] - p0[0], h = p1[1] - p0[1];
    const lr = b[0] === 0 || b[0] === cen ? R_END : 0;
    const rr = b[1] === cen || b[1] === len ? R_END : 0;
    const children: any[] = [
      { type: 'rect', shape: { x, y, width: w, height: h, r: [lr, rr, rr, lr] }, style: { fill: stainColors[b[2]], stroke: '#000', lineWidth: 1.5 } },
    ];
    if (b[2] === 'gvar') {
      const run = 34, gap = 22;
      for (let bx = x - run; bx < x + w; bx += gap) {
        const t0 = Math.max(0, (x - bx) / run);
        const t1 = Math.min(1, (x + w - bx) / run);
        if (t1 <= t0) continue;
        children.push({
          type: 'line',
          shape: { x1: bx + run * t0, y1: y + h - h * t0, x2: bx + run * t1, y2: y + h - h * t1 },
          style: { stroke: '#BDBDBD', lineWidth: 1.3 },
        });
      }
      children.push({ type: 'rect', shape: { x, y, width: w, height: h }, style: { fill: 'none', stroke: '#000', lineWidth: 1.5 } });
    }
    return { type: 'group', children };
  };
}

function armRenderer() {
  return (params: any, api: any) => {
    const p0 = api.coord([api.value(0), 1]);
    const p1 = api.coord([api.value(1), 0]);
    return {
      type: 'rect',
      shape: { x: p0[0], y: p0[1], width: p1[0] - p0[0], height: p1[1] - p0[1], r: R_END },
      style: { fill: 'none', stroke: '#000', lineWidth: 2 },
    };
  };
}

function buildOption() {
  const grid: any[] = [];
  const xAxis: any[] = [];
  const yAxis: any[] = [];
  const series: any[] = [];
  const graphic: any[] = [
    { type: 'text', x: 700, y: 21, style: { text: sampleName, font: `bold 37px "${FONT}"`, textAlign: 'center', textVerticalAlign: 'middle', fill: '#000' } },
  ];

  const valueY = (range: number[], ticks: number[], name: string) => ({
    type: 'value', min: range[0], max: range[1], name,
    nameLocation: 'middle', nameGap: 76, nameRotate: 90,
    nameTextStyle: { fontFamily: FONT, fontSize: 25, color: '#000' },
    axisLine: { show: false },
    splitLine: { show: false },
    axisTick: { show: true, length: 10, lineStyle: { color: '#000', width: 2 }, customValues: ticks },
    axisLabel: { show: true, margin: 15, fontFamily: FONT, fontSize: 22, color: '#000', customValues: ticks, formatter: (v: number) => v.toFixed(1) },
  });

  panels.forEach((p, i) => {
    const len = chromLengths[i];
    const cen = centromeres[i];
    const left = colLeft[i % 2];
    const top = rowTop[Math.floor(i / 2)];
    const g = i * 3;

    graphic.push({ type: 'text', x: left + plotW / 2, y: top - 31, style: { text: chromTitles[i], font: `bold 29.5px "${FONT}"`, textAlign: 'center', textVerticalAlign: 'middle', fill: '#000' } });

    grid.push(
      { left, top, width: plotW, height: logRH, show: true, borderColor: '#000', borderWidth: 2, backgroundColor: 'transparent' },
      { left, top: top + bafOff, width: plotW, height: bafH, show: true, borderColor: '#000', borderWidth: 2, backgroundColor: 'transparent' },
      { left, top: top + ideoOff, width: plotW, height: ideoH, show: false },
    );
    for (let k = 0; k < 3; k++) {
      xAxis.push({ type: 'value', gridIndex: g + k, min: 0, max: len, show: false });
    }
    yAxis.push(valueY(logRRange, logRTicks, 'logR'));
    yAxis.push(valueY(bafRange, bafTicks, 'BAF'));
    yAxis.push({ type: 'value', gridIndex: g + 2, min: 0, max: 1, show: false });
    yAxis[g].gridIndex = g;
    yAxis[g + 1].gridIndex = g + 1;

    const pts = (data: any[], idx: number) => ({
      type: 'scatter', xAxisIndex: idx, yAxisIndex: idx, data, symbol: 'rect', symbolSize: 5,
      itemStyle: { color: '#BEBEBE' }, silent: true, z: 2,
    });
    const outs = (data: any[], idx: number) => ({
      type: 'scatter', xAxisIndex: idx, yAxisIndex: idx, data, symbol: asterisk, symbolSize: 15,
      itemStyle: { color: 'transparent', borderColor: '#BEBEBE', borderWidth: 1.3 }, silent: true, z: 2, clip: false,
    });
    const dashed = (yv: number, idx: number) => ({
      type: 'line', xAxisIndex: idx, yAxisIndex: idx, data: [[0, yv], [len, yv]], symbol: 'none', silent: true, z: 3,
      lineStyle: { color: '#A9A9A9', width: 3, type: [27, 9] },
    });
    const red = (data: any[], idx: number) => ({
      type: 'line', xAxisIndex: idx, yAxisIndex: idx, data, symbol: 'none', silent: true, z: 4, connectNulls: false,
      lineStyle: { color: '#FF0000', width: 7, cap: 'round', join: 'miter' },
    });

    series.push(pts(p.lp, g), outs(p.lo, g), dashed(0, g), red(logRLine(p.logR), g));
    series.push(pts(p.bp, g + 1), outs(p.bo, g + 1), dashed(0.5, g + 1), red(bafLine(p.baf), g + 1));
    series.push({
      type: 'custom', xAxisIndex: g + 2, yAxisIndex: g + 2, silent: true, z: 2,
      renderItem: bandRenderer(p.bands, cen, len),
      data: p.bands.map((b: any) => [b[0], b[1]]),
      encode: { x: [0, 1] },
    });
    series.push({
      type: 'custom', xAxisIndex: g + 2, yAxisIndex: g + 2, silent: true, z: 3,
      renderItem: armRenderer(),
      data: [[0, cen], [cen, len]],
      encode: { x: [0, 1] },
    });
  });

  return { animation: false, backgroundColor: '#FFFFFF', grid, xAxis, yAxis, series, graphic };
}

export default function App() {
  const ref = useRef<HTMLDivElement>(null);
  useEffect(() => {
    if (!ref.current) return;
    const chart = echarts.init(ref.current, undefined, { renderer: 'svg' });
    chart.setOption(buildOption());
    return () => {
      chart.dispose();
    };
  }, []);
  return <div ref={ref} style={{ position: 'fixed', left: 0, top: 0, width: 1400, height: 866, background: '#FFFFFF' }} />;
}
